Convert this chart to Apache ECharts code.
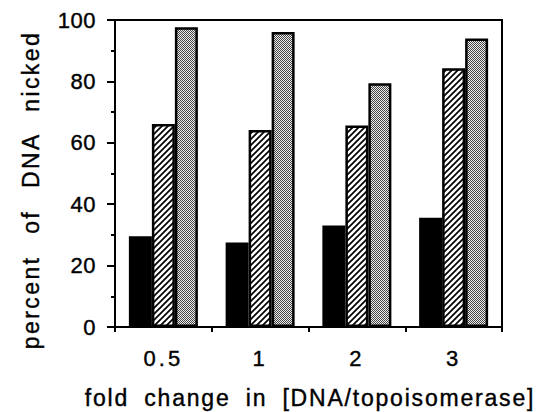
<!DOCTYPE html>
<html><head><meta charset="utf-8">
<script src="https://cdn.jsdelivr.net/npm/echarts@6/dist/echarts.min.js"></script>
<style>html,body{margin:0;padding:0;background:#fff}#c{width:539px;height:412px}</style>
</head><body><div id="c"></div>
<script>
const categories = ['0.5', '1', '2', '3'];
const solidValues = [29.6, 27.5, 33.1, 35.6];
const hatchedValues = [66.1, 64.2, 65.6, 84.3];
const dottedValues = [97.6, 96.1, 79.4, 94.0];
const yTicks = [0, 20, 40, 60, 80, 100];
const xTitle = 'fold change in [DNA/topoisomerase]';
const yTitle = 'percent of DNA nicked';

function hatchPattern() {
  const c = document.createElement('canvas');
  c.width = 6; c.height = 6;
  const g = c.getContext('2d');
  g.fillStyle = '#fff'; g.fillRect(0, 0, 6, 6);
  g.strokeStyle = '#000'; g.lineWidth = 1.7;
  g.beginPath();
  g.moveTo(-1, 7); g.lineTo(7, -1);
  g.moveTo(-1, 1); g.lineTo(1, -1);
  g.moveTo(5, 7); g.lineTo(7, 5);
  g.stroke();
  return c;
}
function dotPattern() {
  const c = document.createElement('canvas');
  c.width = 2; c.height = 2;
  const g = c.getContext('2d');
  g.fillStyle = '#eee'; g.fillRect(0, 0, 2, 2);
  g.fillStyle = '#444'; g.fillRect(0, 0, 1, 1); g.fillRect(1, 1, 1, 1);
  return c;
}

const chart = echarts.init(document.getElementById('c'), null, {renderer: 'svg'});
const font = 'Liberation Sans, Arial, sans-serif';
const common = {type: 'bar', barWidth: 23, barGap: '0%', itemStyle: {borderColor: '#000', borderWidth: 2.5}};
chart.setOption({
  animation: false,
  grid: {left: 115, right: 37, top: 20, bottom: 85, show: true, borderColor: '#000', borderWidth: 2},
  xAxis: {
    type: 'category', data: categories,
    axisLine: {lineStyle: {color: '#000', width: 2}},
    axisTick: {show: true, length: 5, lineStyle: {color: '#000', width: 2}},
    axisLabel: {color: '#000', fontSize: 22, fontFamily: font, margin: 20, textBorderColor: '#000', textBorderWidth: 0.4}
  },
  yAxis: {
    type: 'value', min: 0, max: 100, interval: 20,
    axisLine: {show: true, lineStyle: {color: '#000', width: 2}},
    axisTick: {show: true, length: 8, lineStyle: {color: '#000', width: 2}},
    minorTick: {show: true, splitNumber: 2, length: 4, lineStyle: {color: '#000', width: 2}},
    splitLine: {show: false},
    axisLabel: {color: '#000', fontSize: 22, fontFamily: font, margin: 19, textBorderColor: '#000', textBorderWidth: 0.4,
      formatter: v => yTicks.includes(v) ? String(v) : ''}
  },
  graphic: [
    {type: 'text', x: 310, y: 398, style: {text: xTitle, fill: '#000', stroke: '#000', lineWidth: 0.4, font: '23px ' + font, align: 'center', verticalAlign: 'middle'}},
    {type: 'text', x: 31, y: 190, rotation: Math.PI / 2, style: {text: yTitle, fill: '#000', stroke: '#000', lineWidth: 0.4, font: '23px ' + font, align: 'center', verticalAlign: 'middle'}}
  ],
  series: [
    Object.assign({}, common, {name: 'solid', data: solidValues, itemStyle: Object.assign({}, common.itemStyle, {color: '#000'})}),
    Object.assign({}, common, {name: 'hatched', data: hatchedValues, itemStyle: Object.assign({}, common.itemStyle, {color: {image: hatchPattern(), repeat: 'repeat'}})}),
    Object.assign({}, common, {name: 'dotted', data: dottedValues, itemStyle: Object.assign({}, common.itemStyle, {color: {image: dotPattern(), repeat: 'repeat'}})})
  ]
});

// typographic spacing to match the wide tracking of the original
const spacing = {};
spacing[xTitle] = ['1.8px', '7px'];
spacing[yTitle] = ['2.4px', '13px'];
categories.forEach(c => { spacing[c] = ['3px', '0px']; });
document.querySelectorAll('#c svg text').forEach(t => {
  const s = spacing[t.textContent];
  if (s) { t.style.letterSpacing = s[0]; t.style.wordSpacing = s[1]; }
  else { t.style.letterSpacing = '0.5px'; }
});
</script></body></html>
